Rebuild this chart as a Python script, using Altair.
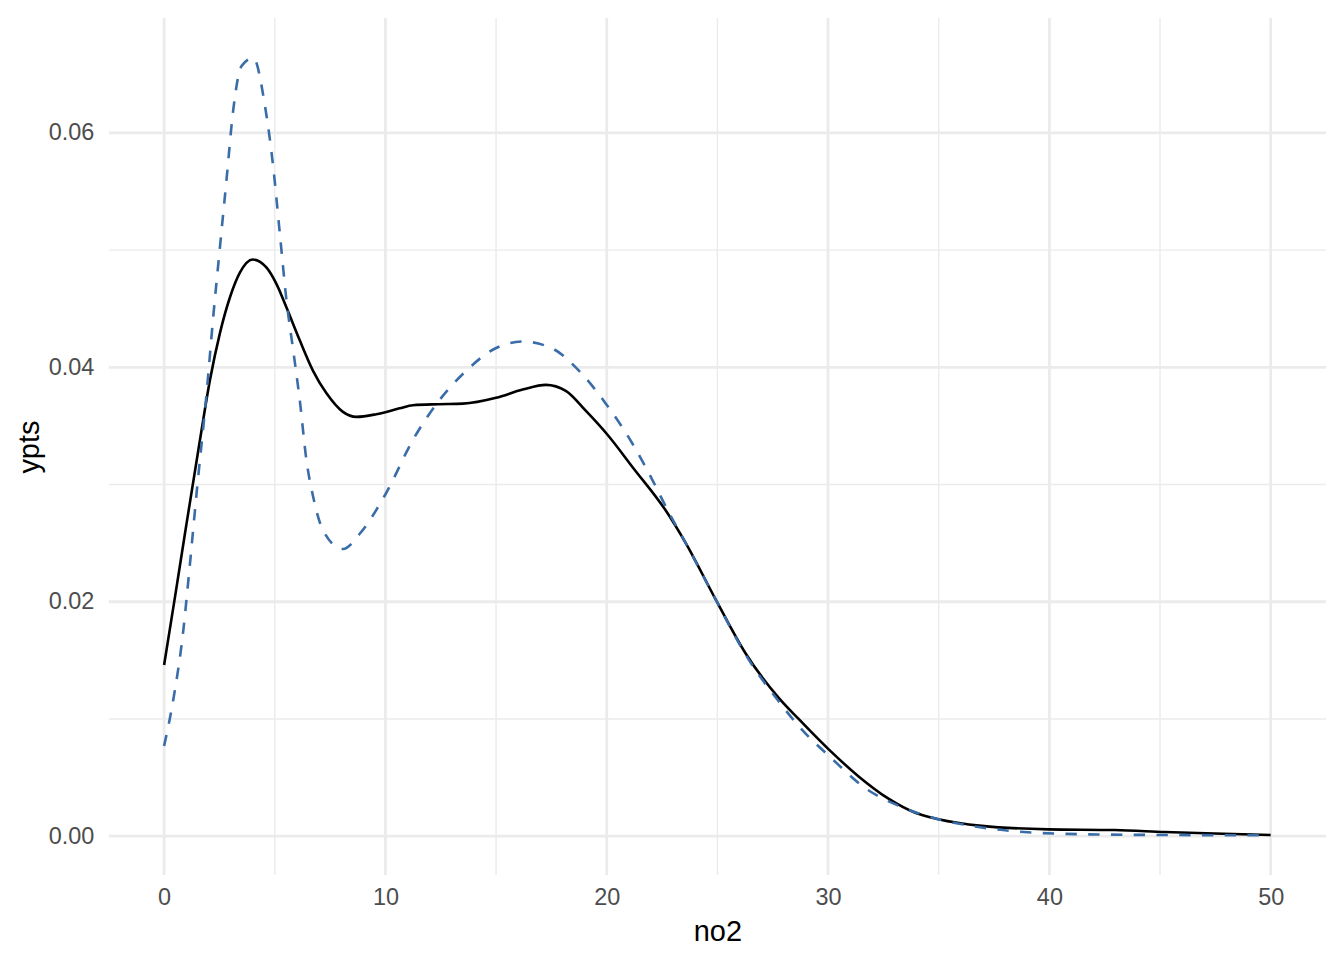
import altair as alt
import pandas as pd

# Solid (black) curve
solid_x = [0.0, 0.5, 1.0, 1.62, 2.07, 2.52, 2.98, 3.43, 4.0, 4.63, 5.08, 5.53, 6.13, 6.73, 7.33, 8.08, 8.69, 9.59, 10.64,
           11.24, 12.4, 13.5, 15.0, 16.2, 17.25, 18.15, 19.05, 20.1, 21.16, 22.66, 23.57, 24.92, 26.27, 27.77, 28.67,
           30.03, 31.38, 32.73, 33.94, 34.99, 36.94, 39.95, 42.95, 45.2, 47.46, 50.0]
solid_y = [0.0146, 0.0205, 0.0265, 0.0338, 0.0389, 0.0429, 0.0460, 0.0481, 0.0492, 0.0485, 0.0471, 0.0451, 0.0423, 0.0397,
           0.0378, 0.0362, 0.03577, 0.0360, 0.0365, 0.03677, 0.03685, 0.0369, 0.0374, 0.0381, 0.0385, 0.0380, 0.0363,
           0.0341, 0.0315, 0.0278, 0.0250, 0.0202, 0.0156, 0.0118, 0.0100, 0.0074, 0.0051, 0.0032, 0.0020, 0.00145,
           0.00088, 0.00058, 0.00052, 0.00036, 0.00022, 0.0001]

# Dashed (blue) curve
dash_x = [0.0, 0.42, 0.87, 1.1, 1.47, 1.93, 2.22, 2.52, 2.83, 3.12, 3.5, 4.03, 4.55, 4.93, 5.23, 5.53, 5.83, 6.13, 6.43, 6.73,
          7.18, 8.08, 8.84, 10.04, 11.24, 12.44, 13.65, 14.85, 16.2, 17.55, 18.75, 19.96, 21.16, 22.06, 22.81, 23.57,
          24.92, 26.27, 27.77, 28.67, 30.18, 31.68, 33.18, 34.99, 36.94, 39.2, 42.2, 45.2, 50.0]
dash_y = [0.0077, 0.0117, 0.0176, 0.0219, 0.0293, 0.0380, 0.0443, 0.0502, 0.0562, 0.0619, 0.0657, 0.0664, 0.0624, 0.0571,
          0.0514, 0.0457, 0.0415, 0.0372, 0.0321, 0.0290, 0.0261, 0.0245, 0.0258, 0.0293, 0.0338, 0.0372, 0.0397, 0.0415,
          0.0422, 0.0416, 0.0397, 0.0369, 0.0335, 0.0304, 0.0276, 0.0250, 0.0202, 0.0155, 0.0115, 0.0094, 0.0066, 0.0041,
          0.0026, 0.00145, 0.00074, 0.00031, 0.00014, 0.0001, 0.00007]

x_major = [0, 10, 20, 30, 40, 50]
x_minor = [5, 15, 25, 35, 45]
y_major = [0.0, 0.02, 0.04, 0.06]
y_minor = [0.01, 0.03, 0.05]

x_dom = [-2.5, 52.5]
y_dom = [-0.003324, 0.0698]

solid = pd.DataFrame({"no2": solid_x, "ypts": solid_y})
dashed = pd.DataFrame({"no2": dash_x, "ypts": dash_y})

FONT = "Liberation Sans"
W, H = 1220, 859

xs = alt.Scale(domain=x_dom, nice=False, zero=False)
ys = alt.Scale(domain=y_dom, nice=False, zero=False)

grid_col = "#EBEBEB"

xaxis = alt.Axis(values=x_major, title="no2", labelPadding=10, titlePadding=9)
yaxis = alt.Axis(values=y_major, title="ypts", format=".2f", labelPadding=15, titlePadding=4)

vmin = alt.Chart(pd.DataFrame({"no2": x_minor})).mark_rule(color=grid_col, strokeWidth=1.4).encode(
    x=alt.X("no2:Q", scale=xs, axis=xaxis))
vmaj = alt.Chart(pd.DataFrame({"no2": x_major})).mark_rule(color=grid_col, strokeWidth=2.8).encode(
    x=alt.X("no2:Q", scale=xs, axis=xaxis))
hmin = alt.Chart(pd.DataFrame({"ypts": y_minor})).mark_rule(color=grid_col, strokeWidth=1.4).encode(
    y=alt.Y("ypts:Q", scale=ys, axis=yaxis))
hmaj = alt.Chart(pd.DataFrame({"ypts": y_major})).mark_rule(color=grid_col, strokeWidth=2.8).encode(
    y=alt.Y("ypts:Q", scale=ys, axis=yaxis))

line_solid = alt.Chart(solid).mark_line(color="#000000", strokeWidth=2.6, interpolate="monotone").encode(
    x=alt.X("no2:Q", scale=xs, axis=xaxis),
    y=alt.Y("ypts:Q", scale=ys, axis=yaxis),
)
line_dash = alt.Chart(dashed).mark_line(color="#3A6DA8", strokeWidth=2.6, strokeDash=[11.4, 11.4],
                                        interpolate="monotone").encode(
    x=alt.X("no2:Q", scale=xs, axis=xaxis),
    y=alt.Y("ypts:Q", scale=ys, axis=yaxis),
)

chart = alt.layer(vmin, hmin, vmaj, hmaj, line_solid, line_dash).properties(
    width=W, height=H,
    background="white",
    autosize=alt.AutoSizeParams(type="none"),
    padding={"left": 101, "top": 9, "right": 10, "bottom": 80},
).configure_view(
    strokeWidth=0, stroke="transparent"
).configure_axis(
    grid=False, domain=False, ticks=False,
    labelColor="#4D4D4D", labelFontSize=23.5, labelFont=FONT,
    titleFont=FONT, titleFontSize=29, titleColor="#000000", titleFontWeight="normal",
)

chart.save("out.html", embed_options={"renderer": "svg", "actions": False})
